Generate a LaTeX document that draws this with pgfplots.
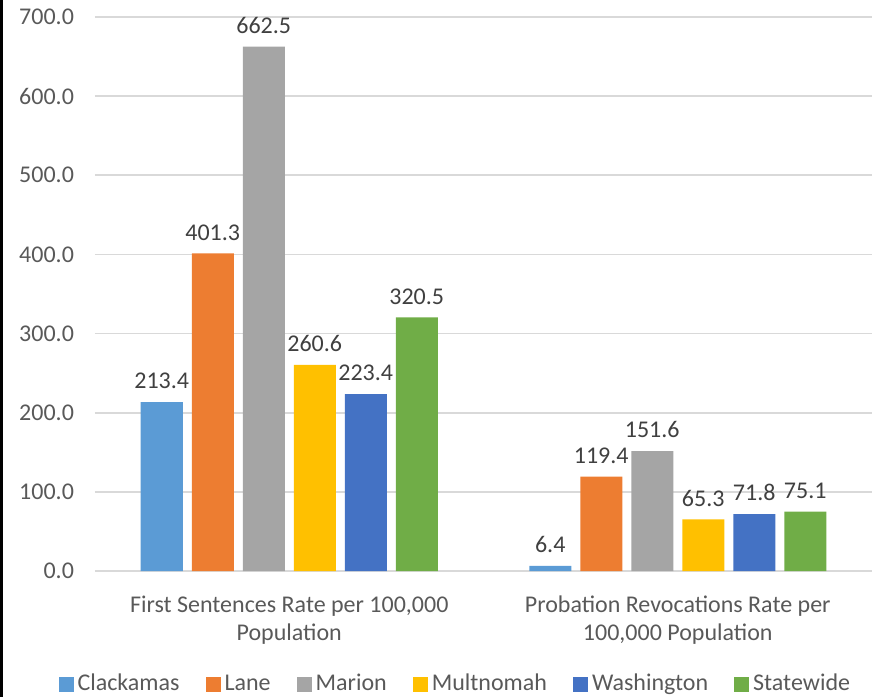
\documentclass[border=0pt]{standalone}
\usepackage{fontspec}
\setmainfont{Carlito}
\usepackage{pgfplots}
\pgfplotsset{compat=1.18}
\definecolor{cClack}{HTML}{5B9BD5}
\definecolor{cLane}{HTML}{ED7D31}
\definecolor{cMarion}{HTML}{A5A5A5}
\definecolor{cMult}{HTML}{FFC000}
\definecolor{cWash}{HTML}{4472C4}
\definecolor{cState}{HTML}{70AD47}
\definecolor{txt}{HTML}{595959}
\definecolor{lbl}{HTML}{404040}
\definecolor{grd}{HTML}{D9D9D9}

\begin{document}
\begin{tikzpicture}
% picture frame: 881 x 697 px at 0.5pt per px, plot area corner at (95,571)px
\useasboundingbox (-47.5pt,-63pt) rectangle (393pt,285.5pt);
\fill[black] (-47.5pt,-63pt) rectangle (-46pt,285.5pt);
\begin{axis}[
  scale only axis,
  width=388.5pt, height=277pt,
  ybar=4.5pt, bar width=21pt,
  xmin=-0.5, xmax=1.5,
  ymin=0, ymax=700,
  ytick={0,100,...,700},
  xtick=data,
  xticklabels={{First Sentences Rate per 100,000\\Population},{Probation Revocations Rate per\\100,000 Population}},
  axis line style={draw=none},
  major tick length=0pt,
  ymajorgrids,
  grid style={grd, line width=0.8pt},
  font=\fontsize{12}{14}\selectfont,
  tick label style={txt},
  /pgf/number format/assume math mode=true,
  yticklabel style={/pgf/number format/fixed, /pgf/number format/zerofill, /pgf/number format/precision=1, anchor=east, xshift=-7pt},
  xticklabel style={align=center, anchor=north, yshift=-9pt},
  nodes near coords,
  nodes near coords style={lbl, font=\fontsize{12}{14}\selectfont, /pgf/number format/fixed, /pgf/number format/zerofill, /pgf/number format/precision=1, /pgf/number format/assume math mode=true, yshift=3pt},
  legend columns=6,
  legend style={at={(0.465,-0.204)}, anchor=center, draw=none, fill=none, text=txt,
    font=\fontsize{12}{14}\selectfont,
    /tikz/every even column/.append style={column sep=11pt}},
  legend image code/.code={\fill[#1] (0pt,-3.75pt) rectangle (7.5pt,3.75pt);},
]
\addplot[fill=cClack, draw=none] coordinates {(0,213.4) (1,6.4)};
\addplot[fill=cLane, draw=none] coordinates {(0,401.3) (1,119.4)};
\addplot[fill=cMarion, draw=none] coordinates {(0,662.5) (1,151.6)};
\addplot[fill=cMult, draw=none] coordinates {(0,260.6) (1,65.3)};
\addplot[fill=cWash, draw=none] coordinates {(0,223.4) (1,71.8)};
\addplot[fill=cState, draw=none] coordinates {(0,320.5) (1,75.1)};
\legend{Clackamas, Lane, Marion, Multnomah, Washington, Statewide}
\end{axis}
\end{tikzpicture}
\end{document}
